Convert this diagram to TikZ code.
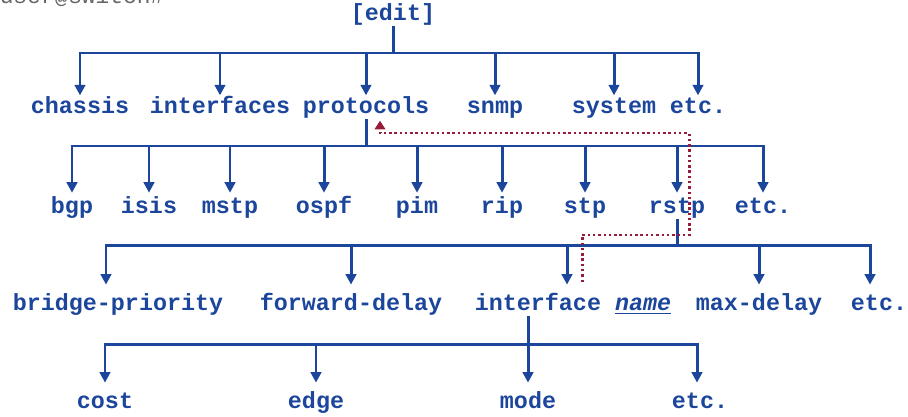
\documentclass[tikz,border=0pt]{standalone}
\usepackage{fontspec}
\newfontfamily\cour{Liberation Mono}
\usetikzlibrary{arrows.meta}
\definecolor{treeblue}{RGB}{28,70,155}
\definecolor{pathred}{RGB}{150,28,58}
\tikzset{
  stmt/.style={font=\cour\bfseries\fontsize{13.3}{16}\selectfont, text=treeblue, inner sep=1pt, text height=9pt, text depth=3pt},
  branch/.style={treeblue, line width=1.7pt, line cap=rect},
  down/.style={branch, -{Triangle[width=6pt,length=6pt]}},
  trace/.style={pathred, line width=1.7pt, dash pattern=on 1.4pt off 1.6pt, -{Triangle[width=6pt,length=5pt]}}
}

\begin{document}
\begin{tikzpicture}[x=0.02cm,y=-0.02cm]
\useasboundingbox (0,0) rectangle (908,416);
\node[font=\cour\fontsize{13}{16}\selectfont, text=black!60] (prompt) at (82,-3) {user@switch\#};

% top level
\node[stmt] (edit) at (393,15) {[edit]};
\coordinate (bar1) at (0,53);
\node[stmt] (chassis) at (80,108) {chassis};
\node[stmt] (interfaces) at (220,108) {interfaces};
\node[stmt] (protocols) at (366,108) {protocols};
\node[stmt] (snmp) at (495,108) {snmp};
\node[stmt] (system) at (614,108) {system};
\node[stmt] (etc1) at (698,108) {etc.};
\draw[branch] (edit.south) -- (edit |- bar1);
\draw[branch] (chassis |- bar1) -- (etc1 |- bar1);
\foreach \n in {chassis,interfaces,protocols,snmp,system,etc1}
  \draw[down] (\n |- bar1) -- (\n);

% protocols
\coordinate (bar2) at (0,146);
\node[stmt] (bgp) at (72,208) {bgp};
\node[stmt] (isis) at (149,208) {isis};
\node[stmt] (mstp) at (230,208) {mstp};
\node[stmt] (ospf) at (324,208) {ospf};
\node[stmt] (pim) at (417,208) {pim};
\node[stmt] (rip) at (502,208) {rip};
\node[stmt] (stp) at (585,208) {stp};
\node[stmt] (rstp) at (677,208) {rstp};
\node[stmt] (etc2) at (763,208) {etc.};
\draw[branch] (protocols.south) -- (protocols |- bar2);
\draw[branch] (bgp |- bar2) -- (etc2 |- bar2);
\foreach \n in {bgp,isis,mstp,ospf,pim,rip,stp,rstp,etc2}
  \draw[down, shorten >=1.5pt] (\n |- bar2) -- (\n);

% rstp
\coordinate (bar3) at (0,245);
\node[stmt] (bridge) at (118,305) {bridge-priority};
\node[stmt] (forward) at (351,305) {forward-delay};
\node[stmt] (iface) at (573,305) {interface \underline{\itshape name}};
\node[stmt] (maxdelay) at (759,305) {max-delay};
\node[stmt] (etc3) at (879,305) {etc.};
\draw[branch] (rstp.south) -- (rstp |- bar3);
\draw[branch] ([xshift=-0.24cm]bridge.north |- bar3) -- ([xshift=-0.18cm]etc3.north |- bar3);
\draw[down, shorten >=4.4pt] ([xshift=-0.24cm]bridge.north |- bar3) -- ([xshift=-0.24cm]bridge.north);
\draw[down, shorten >=4.4pt] (forward |- bar3) -- (forward);
\draw[down, shorten >=4.4pt] ([xshift=-0.12cm]iface.north |- bar3) -- ([xshift=-0.12cm]iface.north);
\draw[down, shorten >=4.4pt] (maxdelay |- bar3) -- (maxdelay);
\draw[down, shorten >=4.4pt] ([xshift=-0.18cm]etc3.north |- bar3) -- ([xshift=-0.18cm]etc3.north);

% interface name
\coordinate (bar4) at (0,344);
\node[stmt] (cost) at (105,403) {cost};
\node[stmt] (edge) at (316,403) {edge};
\node[stmt] (mode) at (528,403) {mode};
\node[stmt] (etc4) at (700,403) {etc.};
\draw[branch] (mode |- iface.south) -- (mode |- bar4);
\draw[branch] (cost |- bar4) -- ([xshift=-0.06cm]etc4.north |- bar4);
\foreach \n in {cost,edge,mode}
  \draw[down, shorten >=4.4pt] (\n |- bar4) -- (\n);
\draw[down, shorten >=4.4pt] ([xshift=-0.06cm]etc4.north |- bar4) -- ([xshift=-0.06cm]etc4.north);

% path back up to protocols
\coordinate (t0) at (582,282);
\coordinate (t1) at (689,235);
\coordinate (t2) at (380,133);
\draw[trace] (t0) |- (t1) |- (t2) -- (protocols.south -| t2);
\end{tikzpicture}
\end{document}
